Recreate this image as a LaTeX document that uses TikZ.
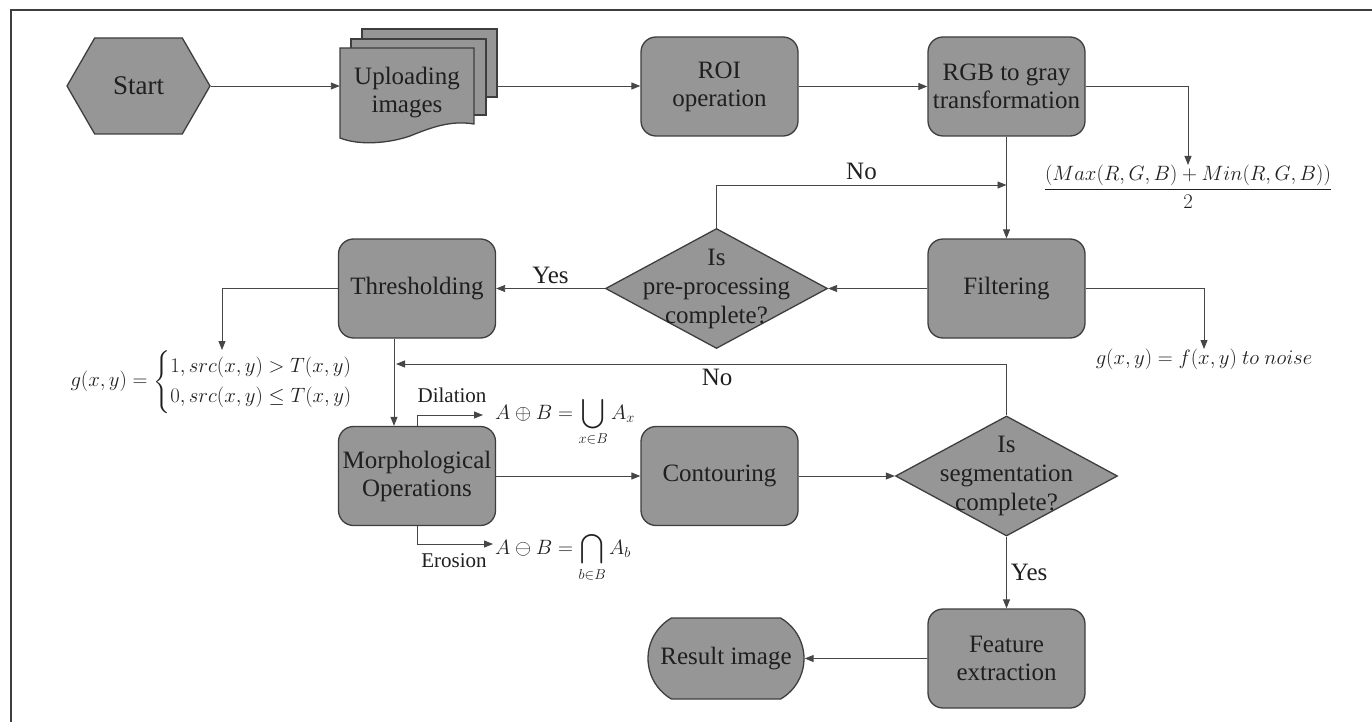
\documentclass[tikz,border=0pt]{standalone}
\usepackage{amsmath,amssymb}
\usepackage{fontspec}
\IfFontExistsTF{Liberation Serif}{\setmainfont{Liberation Serif}}{\setmainfont{Latin Modern Roman}}
\usepackage{tikz}
\usetikzlibrary{arrows.meta,shapes.geometric,shapes.misc,shapes.symbols}

\definecolor{boxgray}{RGB}{150,150,150}
\definecolor{edgegray}{RGB}{62,62,62}
\definecolor{linegray}{RGB}{70,70,70}

\begin{document}
\begin{tikzpicture}[x=1pt,y=-1pt,
  >={Triangle[length=9pt,width=7pt]},
  every node/.style={text=black!88, font=\rmfamily\fontsize{25}{28}\selectfont},
  block/.style={draw=edgegray, line width=1.3pt, fill=boxgray, rounded corners=15pt,
    minimum width=157pt, minimum height=99pt, inner sep=0pt, align=center},
  startshape/.style={signal, signal to=east and west, signal pointer angle=120,
    draw=edgegray, line width=1.3pt, fill=boxgray, minimum width=143pt,
    minimum height=96pt, inner sep=0pt, font=\rmfamily\fontsize{27}{29}\selectfont},
  endshape/.style={rounded rectangle, rounded rectangle arc length=120,
    draw=edgegray, line width=1.3pt, fill=boxgray, minimum width=156pt,
    minimum height=81pt, inner sep=0pt},
  decision/.style={diamond, draw=edgegray, line width=1.3pt, fill=boxgray,
    minimum width=222pt, minimum height=120pt, inner sep=0pt},
  dtext/.style={align=center, inner sep=0pt, font=\rmfamily\fontsize{25}{29}\selectfont},
  page/.style={draw=edgegray, line width=1.3pt, fill=boxgray},
  flow/.style={draw=linegray, line width=0.9pt},
  formula/.style={inner sep=0pt, font=\fontsize{21}{25}\selectfont},
  small/.style={inner sep=0pt, font=\rmfamily\fontsize{21}{23}\selectfont}]

  \useasboundingbox (0,0) rectangle (1372,722);
  % frame
  \draw[edgegray, line width=1.2pt] (11,722) -- (11,10) -- (1372,10);

  % first row
  \node[startshape] (start) at (138.5,86) {Start};
  % stack of pages
  \draw[page] (362,29) rectangle (497,97);
  \draw[page] (351,39) rectangle (486,115);
  \draw[page] (340,48) -- (474,48) -- (474,124) .. controls (450,120) and (430,128) .. (410,136)
    .. controls (390,143) and (360,146) .. (340,138) -- cycle;
  \node[align=center, minimum width=134pt, minimum height=90pt, inner sep=0pt] (upload) at (407,93) {Uploading\\images};
  \coordinate (stackout) at (497,86);
  \node[block] (roi) at (719.5,86.5) {ROI\\operation};
  \node[block] (rgb) at (1006.5,86.5) {RGB to gray\\transformation};

  % second row
  \node[block] (filter) at (1006.5,288.5) {Filtering};
  \node[decision, label={[dtext]center:{Is\\pre-processing\\complete?}}] (prep) at (716.5,288.5) {};
  \node[block] (thresh) at (417,288.5) {Thresholding};

  % third row
  \node[block] (morph) at (417,476) {Morphological\\Operations};
  \node[block] (contour) at (719.5,476) {Contouring};
  \node[decision, label={[dtext]center:{Is\\segmentation\\complete?}}] (seg) at (1006.5,476) {};

  % last row
  \node[block] (feature) at (1006.5,658.5) {Feature\\extraction};
  \node[endshape] (result) at (726,658.5) {Result image};

  % formulas
  \node[formula, anchor=north] (maxmin) at (1188,165) {$\dfrac{(Max(R,G,B)+Min(R,G,B))}{2}$};
  \node[formula, anchor=north] (noise) at (1204,349) {$g(x,y)=f(x,y)\ to\ noise$};
  \node[formula, anchor=north] (gxy) at (222,350) {$g(x,y)=\begin{cases}1, src(x,y)>T(x,y)\\0, src(x,y)\le T(x,y)\end{cases}$};
  \node[formula, anchor=base west] (dil) at (495,419) {$\displaystyle A\oplus B=\bigcup_{x\in B}A_x$};
  \node[formula, anchor=base west] (ero) at (495,554) {$\displaystyle A\ominus B=\bigcap_{b\in B}A_b$};
  \node[small] (dillabel) at (452,395) {Dilation};
  \node[small] (erolabel) at (454,561) {Erosion};

  % junctions
  \coordinate (nojoin) at (1006.5,185);
  \coordinate (segjoin) at (396,364);
  \coordinate (dilin) at (483,415);
  \coordinate (eroin) at (493,544);

  % connectors
  \draw[flow,->] (start.east) -- (start.east -| upload.west);
  \draw[flow,->] (stackout) -- (stackout -| roi.west);
  \draw[flow,->] (roi) -- (rgb);
  \draw[flow,->] (rgb.east) -| (maxmin.north);
  \draw[flow,->] (rgb) -- (filter);
  \draw[flow,->] (filter.east) -| (noise.north);
  \draw[flow,->] (filter) -- (prep);
  \draw[flow,->] (prep) -- node[above, inner sep=4pt] (yes1) {Yes} (thresh);
  \draw[flow,->] (prep.north) |- node[pos=0.75, above, inner sep=5pt] (no1) {No} (nojoin);
  \draw[flow,->] (thresh.west) -| (gxy.north);
  \draw[flow,->] ([xshift=-23pt]thresh.south) -- ([xshift=-23pt]morph.north);
  \draw[flow,->] (seg.north) |- node[pos=0.737, below, inner sep=5pt] (no2) {No} (segjoin);
  \draw[flow,->] (morph.north) |- (dilin);
  \draw[flow,->] (morph.south) |- (eroin);
  \draw[flow,->] (morph) -- (contour);
  \draw[flow,->] (contour) -- (seg);
  \draw[flow,->] (seg) -- node[right, inner sep=4pt] (yes2) {Yes} (feature);
  \draw[flow,->] (feature) -- (result);
\end{tikzpicture}
\end{document}
